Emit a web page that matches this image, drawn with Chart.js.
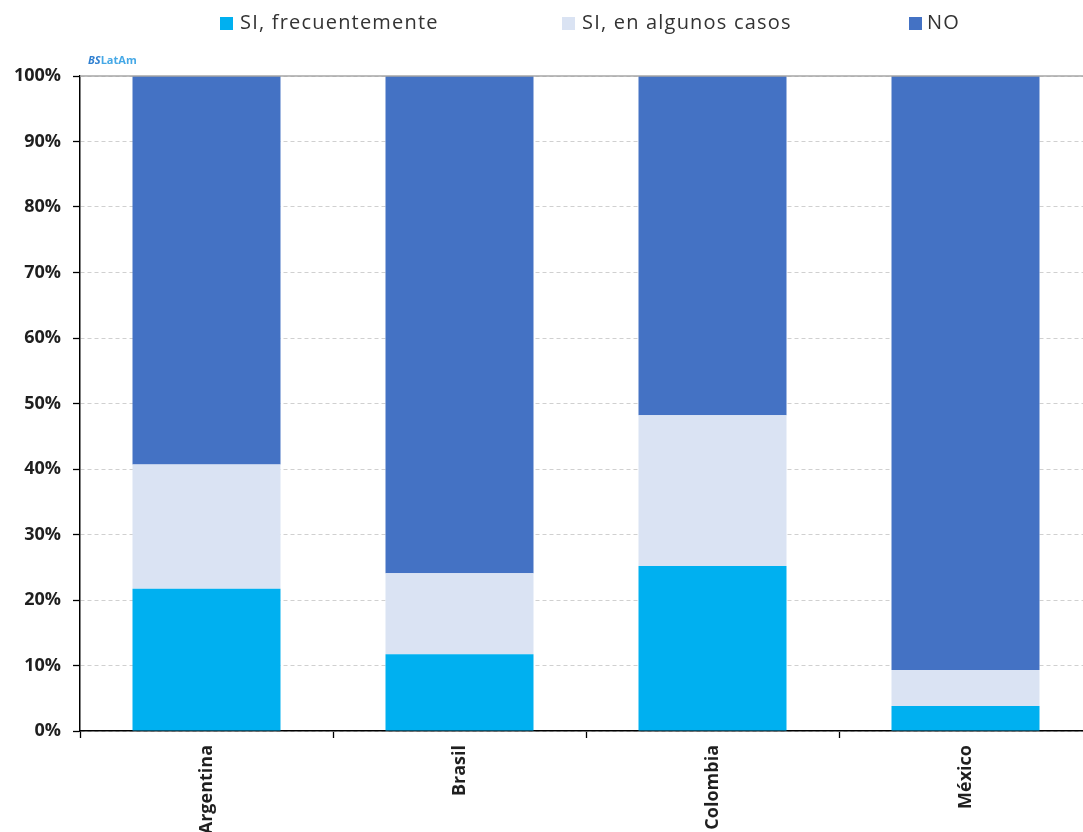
<!DOCTYPE html>
<html>
<head>
<meta charset="utf-8">
<script src="https://cdn.jsdelivr.net/npm/chart.js@4"></script>
<style>
  html, body { margin: 0; padding: 0; overflow: hidden; background: #fff; width: 1083px; height: 832px; }
  #wrap { position: absolute; left: 0; top: 0; width: 1110px; height: 850px; }
  .leg { position: absolute; top: 8px; font: 20px "Open Sans", sans-serif; letter-spacing: 1.2px; color: #333; white-space: nowrap; }
  .sw { position: absolute; top: 17px; width: 13px; height: 13px; }
  #mark { position: absolute; left: 88px; top: 52px; font: bold 11px "Open Sans", sans-serif; color: #45a8e6; }
  #mark i { color: #2f7fd0; }
</style>
</head>
<body>
<div id="wrap"><canvas id="chart" width="1110" height="850"></canvas></div>
<div class="sw" style="left:220px;background:#00B0F0"></div><div class="leg" style="left:240px">SI, frecuentemente</div>
<div class="sw" style="left:562px;background:#DAE3F3"></div><div class="leg" style="left:582px">SI, en algunos casos</div>
<div class="sw" style="left:909px;background:#4472C4"></div><div class="leg" style="left:927px">NO</div>
<div id="mark"><i>BS</i>LatAm</div>
<script>
const countries = ['Argentina', 'Brasil', 'Colombia', 'México'];
const siFrecuente = [21.7, 11.7, 25.2, 3.8];
const siAlgunos = [19.0, 12.4, 23.0, 5.5];
const no = [59.3, 75.9, 51.8, 90.7];
const yTicks = [0, 10, 20, 30, 40, 50, 60, 70, 80, 90, 100];

// gray line along the top of the plot
const topLine = {
    id: 'topLine',
    afterDraw(chart) {
        const { ctx, chartArea } = chart;
        ctx.save();
        ctx.strokeStyle = '#a6a6a6';
        ctx.lineWidth = 1.5;
        ctx.beginPath();
        ctx.moveTo(chartArea.left, chartArea.top);
        ctx.lineTo(chartArea.right, chartArea.top);
        ctx.stroke();
        ctx.restore();
    }
};

new Chart(document.getElementById('chart').getContext('2d'), {
    type: 'bar',
    data: {
        labels: countries,
        datasets: [
            { label: 'SI, frecuentemente', data: siFrecuente, backgroundColor: '#00B0F0' },
            { label: 'SI, en algunos casos', data: siAlgunos, backgroundColor: '#DAE3F3' },
            { label: 'NO', data: no, backgroundColor: '#4472C4' }
        ]
    },
    options: {
        responsive: false,
        animation: false,
        layout: { padding: { top: 76, right: 18, left: 0, bottom: 0 } },
        datasets: { bar: { categoryPercentage: 1, barPercentage: 0.585, borderWidth: 0 } },
        plugins: { legend: { display: false }, tooltip: { enabled: false } },
        scales: {
            x: {
                stacked: true,
                afterFit: s => { s.height = 850 - 731; },
                grid: { offset: true, drawOnChartArea: false, tickLength: 7, tickColor: '#000', tickWidth: 1.3 },
                border: { color: '#000', width: 1.5 },
                ticks: {
                    minRotation: 90, maxRotation: 90, padding: 7,
                    color: '#1f1f1f',
                    font: { family: 'Open Sans', size: 18, weight: 'bold' }
                }
            },
            y: {
                stacked: true,
                min: 0, max: 100,
                afterFit: s => { s.width = 80; },
                afterBuildTicks: s => { s.ticks = yTicks.map(v => ({ value: v })); },
                grid: { color: '#d0d0d0', tickLength: 7, tickColor: '#000', tickWidth: 1.3 },
                border: { color: '#000', width: 1.5, dash: [4, 3] },
                ticks: {
                    padding: 12,
                    color: '#1f1f1f',
                    font: { family: 'Open Sans', size: 18, weight: 'bold' },
                    callback: v => v + '%'
                }
            }
        }
    },
    plugins: [topLine]
});
</script>
</body>
</html>
